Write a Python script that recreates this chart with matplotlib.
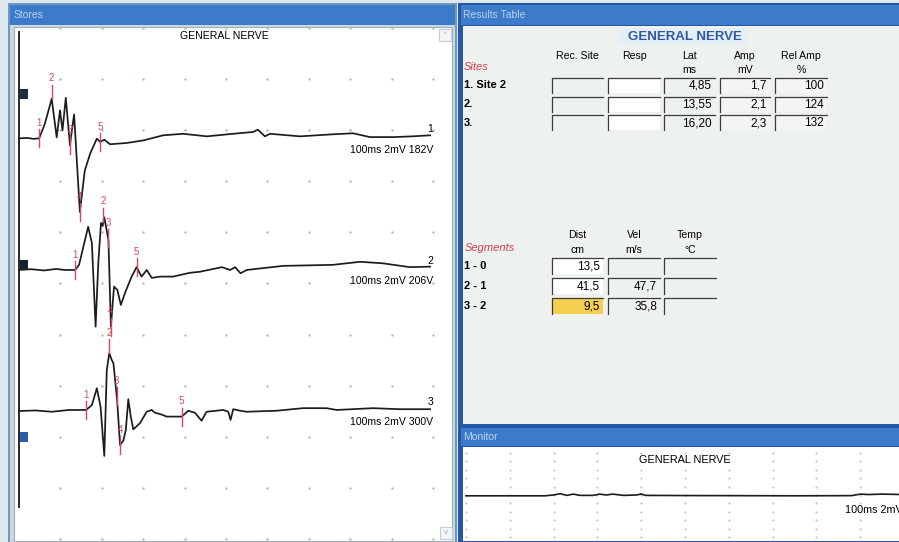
import numpy as np
import matplotlib.pyplot as plt
from matplotlib.patches import Rectangle

plt.rcParams['font.family'] = ['Liberation Sans', 'DejaVu Sans']

W, H = 899, 542

# ---- stored sweeps: time [ms], amplitude [mV] relative to each sweep's baseline
t1 = [0, 2.0, 3.5, 4.85, 6.2, 7.9, 9.1, 9.9, 10.5, 11.3, 12.3, 13.3, 14.7, 15.9, 17.2,
      18.8, 19.6, 20.6, 22.0, 26.0, 30.0, 34.8, 39.6, 45.4, 51.7, 56.5, 57.7, 59.4, 60.6,
      67.9, 75.8, 80.7, 84.8, 90.3, 95.0, 99.3]
v1 = [0, 0.02, -0.02, 0, 0.55, 1.55, 0.04, 1.10, 0.31, 1.59, -0.27, 0.94, -2.88, -1.25, -0.59,
      -0.01, -0.14, -0.05, -0.23, -0.18, -0.08, 0.12, 0.18, 0.08, 0.18, 0.25, 0.34, 0.08, 0.18,
      0.08, 0.16, 0.20, 0.05, 0.05, 0.08, 0.12]

t2 = [0, 3, 6, 9, 11, 13.55, 14.5, 16.7, 17.6, 18.5, 19.15, 19.8, 20.2, 20.6, 21.6, 22.2,
      22.95, 23.75, 24.6, 25.6, 27.2, 28.4, 29.6, 30.85, 32.05, 34.1, 37.2, 41.3, 43.7, 49.0,
      51.0, 52.2, 53.5, 55.0, 63.8, 75.8, 82.4, 87.9, 94.4, 99.3]
v2 = [0, 0.03, -0.02, 0.04, 0.0, 0, 0.2, 1.69, 1.06, -2.22, 0.27, 1.84, 1.72, 2.06, 1.17, -2.22,
      -0.65, -0.78, -1.37, -0.9, -0.26, 0.11, -0.26, 0, -0.31, -0.26, -0.26, -0.11, -0.07, 0.11,
      0, 0.11, -0.13, 0, 0.16, 0.2, 0.32, 0.26, 0.11, 0.13]

t3 = [0, 4, 8, 12, 16.2, 17.6, 18.8, 19.7, 20.6, 21.2, 21.8, 22.4, 22.8, 23.7, 24.4, 25.2,
      25.8, 26.4, 27.0, 27.6, 29.2, 30.85, 32.05, 32.85, 34.1, 35.7, 39.3, 40.9, 42.5, 44.1,
      45.3, 49.35, 50.55, 51.1, 51.75, 53.4, 55.0, 62.25, 68.6, 74.3, 76.7, 85.5, 92.0, 99.3]
v3 = [0, 0.02, -0.03, 0.04, 0.04, 0.23, 0.89, 0.17, -1.76, 1.6, 2.26, 2.0, 1.87, 0.43, -1.33, -1.16,
      -0.74, 0.46, -0.22, -0.72, -0.48, -0.03, 0.04, -0.07, -0.12, -0.22, -0.22, 0.01, -0.07, -0.38,
      -0.03, 0.04, -0.03, -0.35, 0.07, 0.01, -0.03, 0.01, 0.11, 0.11, 0.04, 0.11, 0.07, 0.07]

baselines = [15.68, 10.53, 5.01]
sweep_labels = ['100ms 2mV 182V', '100ms 2mV 206V', '100ms 2mV 300V']

# ---- results table
site_names = ['1. Site 2', '2.', '3.']
lat_ms = [4.85, 13.55, 16.20]
amp_mv = [1.7, 2.1, 2.3]
rel_amp = [100, 124, 132]
seg_names = ['1 - 0', '2 - 1', '3 - 2']
dist_cm = [13.5, 41.5, 9.5]
vel_ms = [None, 47.7, 35.8]

# cursor positions 1..5 on each sweep [ms]; cursor 1 is the onset latency
cursors = [[lat_ms[0], 7.9, 12.3, 14.7, 19.6],
           [lat_ms[1], 20.4, 21.5, 22.2, 28.4],
           [lat_ms[2], 21.8, 23.6, 24.4, 39.3]]

# ---- live monitor sweep
mon_t = [0, 18, 20, 21.5, 23, 24.5, 26, 29, 30.5, 32, 33.5, 36, 39, 40, 41, 50, 60, 75, 88,
         90, 92, 95, 100]
mon_v = [4.9, 4.9, 5.0, 5.15, 4.95, 5.1, 4.95, 4.95, 5.1, 5.0, 5.1, 4.95, 5.0, 5.12, 4.95,
         4.93, 4.92, 4.9, 4.92, 5.1, 5.05, 5.1, 5.05]


def fmt(x, nd):
    return f'{x:.{nd}f}'.replace('.', ',')


fig = plt.figure(figsize=(W / 100, H / 100), dpi=100)
fig.patch.set_facecolor('#dfe7ee')

bg = fig.add_axes([0, 0, 1, 1])
bg.set_xlim(0, W)
bg.set_ylim(H, 0)
bg.axis('off')


def px_axes(x0, y0, x1, y1):
    a = fig.add_axes([x0 / W, 1 - y1 / H, (x1 - x0) / W, (y1 - y0) / H])
    a.axis('off')
    return a


def rect(x0, y0, x1, y1, **kw):
    bg.add_patch(Rectangle((x0, y0), x1 - x0, y1 - y0, **kw))


TITLE = '#3b7bc9'
FRAME = '#2458a6'
PANEL = '#eef2ee'

# window frames
rect(8, 3, 457, 542, facecolor='#6f98bf', edgecolor='none')
rect(10, 5, 455, 25, facecolor=TITLE, edgecolor='none')
rect(10, 25, 455, 542, facecolor='#c9d8e2', edgecolor='none')
rect(14, 27, 452, 541, facecolor='white', edgecolor='#9fb0bd', lw=0.8)
bg.text(14, 15, 'Stores', fontsize=7.5, color='#b9d2ee', va='center')

rect(458, 3, W, 426, facecolor=FRAME, edgecolor='none')
rect(461, 5, W, 25, facecolor=TITLE, edgecolor='none')
rect(463, 26, W, 424, facecolor=PANEL, edgecolor='none')
bg.text(463, 15, 'Results Table', fontsize=7.5, color='#b9d2ee', va='center')

rect(458, 426, W, 542, facecolor=FRAME, edgecolor='none')
rect(461, 428, W, 446, facecolor=TITLE, edgecolor='none')
rect(463, 447, W, 541, facecolor='white', edgecolor='none')
bg.text(463, 437, 'Monitor', fontsize=7.5, color='#b9d2ee', va='center')

# scroll buttons
for (x0, y0, ch) in [(439, 29, '^'), (440, 527, 'v')]:
    rect(x0, y0, x0 + 12, y0 + 12, facecolor='#f3f6f8', edgecolor='#c5ced6', lw=0.8)
    bg.text(x0 + 6, y0 + 6, ch, fontsize=6, color='#a8b4be', ha='center', va='center')

# ---- stores sweeps
ax = px_axes(15, 27, 451, 540)
ax.set_xlim(-0.97, 104.35)
ax.set_ylim(-0.04, 20.04)

gx, gy = np.meshgrid(np.arange(10, 101, 10), np.arange(0, 21, 2))
ax.scatter(gx.ravel(), gy.ravel(), s=3, color='#b9b9a0', linewidths=0)
ax.plot([0, 0], [1.25, 19.85], color='#2a2a2a', lw=1.4)
ax.text(49.5, 19.7, 'GENERAL NERVE', fontsize=7.6, ha='center', va='center')

square_off = [1.73, 0.2, -1.02]
square_col = ['#1e2d3c', '#122430', '#2a5ca8']
MK = '#d8475f'
for i, (t, v) in enumerate([(t1, v1), (t2, v2), (t3, v3)]):
    base = baselines[i]
    y = base + np.array(v)
    ax.plot(t, y, color='#1c1c1c', lw=1.25)
    ax.add_patch(Rectangle((0, base + square_off[i] - 0.2), 2.2, 0.4,
                           facecolor=square_col[i], edgecolor='none'))
    ax.text(100, base + 0.35, str(i + 1), fontsize=7.5, ha='right', va='center')
    ax.text(100, base - 0.45, sweep_labels[i], fontsize=7.6, ha='right', va='center')
    for k, c in enumerate(cursors[i]):
        val = base + np.interp(c, t, v)
        if k == 1:
            lo, hi = val, val + 0.55
        else:
            lo, hi = val - 0.35, val + 0.35
        ax.plot([c, c], [lo, hi], color=MK, lw=1.0)
        ax.text(c, hi + 0.05, str(k + 1), fontsize=7, color=MK, ha='center', va='bottom')

# ---- results table
def sunken(x0, y0, x1, y1, face):
    rect(x0, y0, x1, y1, facecolor=face, edgecolor='none')
    bg.plot([x0, x0, x1], [y1, y0, y0], color='#3c3c3c', lw=0.9)


rect(618, 28, 748, 45, facecolor='#e6eef6', edgecolor='none')
bg.text(685, 36.5, 'GENERAL NERVE', fontsize=9.5, fontweight='bold', color='#2c5aa8',
        ha='center', va='center')

site_cols = [(552, 603), (608, 660), (664, 715), (720, 770), (775, 827)]
site_heads = [('Rec. Site', ''), ('Resp', ''), ('Lat', 'ms'), ('Amp', 'mV'), ('Rel Amp', '%')]
for (x0, x1), (h1, h2) in zip(site_cols, site_heads):
    xc = (x0 + x1) / 2
    bg.text(xc, 56, h1, fontsize=7.6, ha='center', va='center')
    if h2:
        bg.text(xc, 70, h2, fontsize=7.6, ha='center', va='center')
bg.text(464, 67, 'Sites', fontsize=8, style='italic', color='#d23c50', va='center')

row_tops = [78, 96.5, 115]
for r, top in enumerate(row_tops):
    bot = top + 15
    bg.text(464, top + 7.5, site_names[r], fontsize=8, fontweight='bold', va='center')
    cells = ['', '', fmt(lat_ms[r], 2), fmt(amp_mv[r], 1), str(rel_amp[r])]
    faces = [PANEL, 'white', PANEL, '#f3f5f3', '#f3f5f3']
    for (x0, x1), txt, fc in zip(site_cols, cells, faces):
        sunken(x0, top, x1, bot, fc)
        bg.text(x1 - 3, top + 8, txt, fontsize=8.5, ha='right', va='center')

seg_cols = [(552, 603), (608, 660), (664, 716)]
seg_heads = [('Dist', 'cm'), ('Vel', 'm/s'), ('Temp', '°C')]
for (x0, x1), (h1, h2) in zip(seg_cols, seg_heads):
    xc = (x0 + x1) / 2
    bg.text(xc, 235, h1, fontsize=7.6, ha='center', va='center')
    bg.text(xc, 250, h2, fontsize=7.6, ha='center', va='center')
bg.text(465, 248, 'Segments', fontsize=8, style='italic', color='#d23c50', va='center')

seg_tops = [258, 278, 298]
dist_face = ['white', 'white', '#f7cf4e']
for r, top in enumerate(seg_tops):
    bot = top + 16
    bg.text(464, top + 8, seg_names[r], fontsize=8, fontweight='bold', va='center')
    cells = [fmt(dist_cm[r], 1), '' if vel_ms[r] is None else fmt(vel_ms[r], 1), '']
    faces = [dist_face[r], PANEL, PANEL]
    for (x0, x1), txt, fc in zip(seg_cols, cells, faces):
        sunken(x0, top, x1, bot, fc)
        bg.text(x1 - 3, top + 8.5, txt, fontsize=8.5, ha='right', va='center')

# ---- monitor
mx = px_axes(463, 447, W, 541)
mx.set_xlim(-0.68, 98.86)
mx.set_ylim(-0.48, 10.71)
mgx, mgy = np.meshgrid(np.arange(0, 91, 10), np.arange(0, 11, 1))
mx.scatter(mgx.ravel(), mgy.ravel(), s=2.5, color='#c9c9a8', linewidths=0)
mx.plot(mon_t, mon_v, color='#1c1c1c', lw=1.2)
mx.text(50, 9.2, 'GENERAL NERVE', fontsize=7.8, ha='center', va='center')
# the sweep caption runs past the right edge of the monitor and is clipped there
mx.text(86.5, 3.2, '100ms 2mV 100V', fontsize=7.8, ha='left', va='center', clip_on=True)

fig.savefig('out.png', dpi=100)
